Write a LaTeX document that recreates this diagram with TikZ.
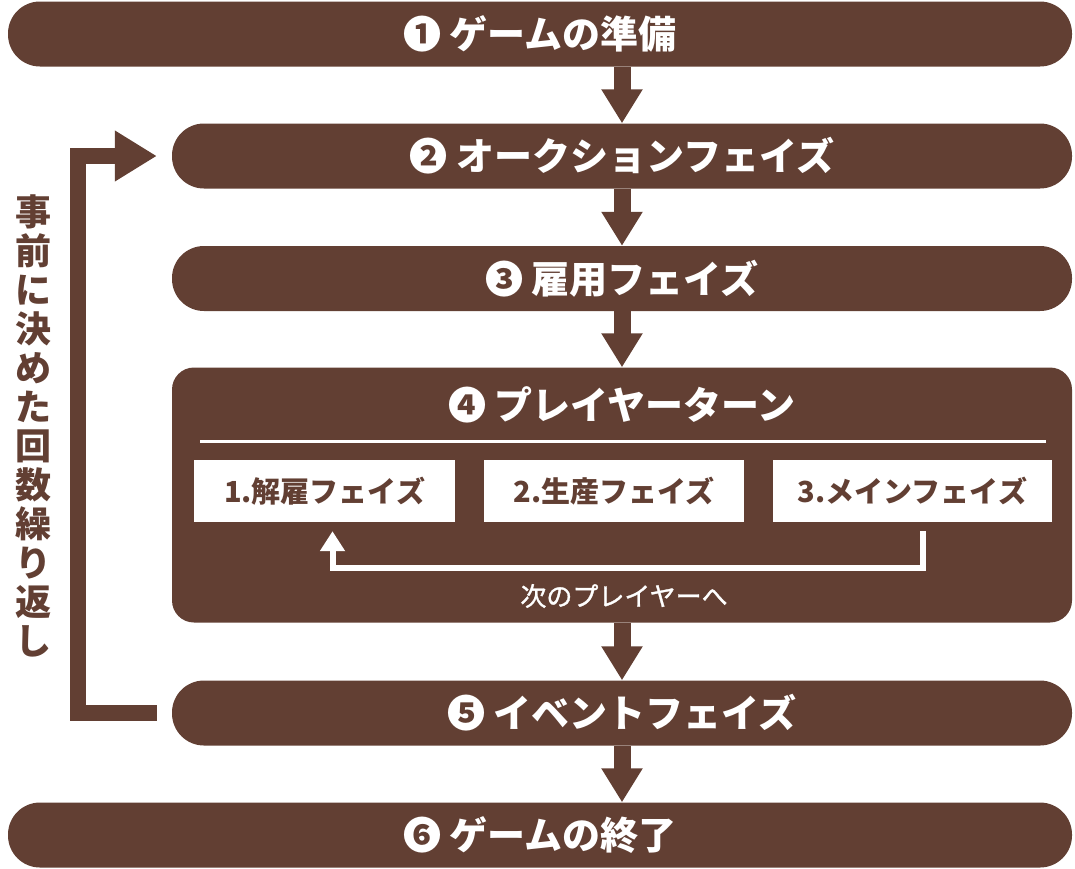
\documentclass[tikz,border=0pt]{standalone}
\usepackage{fontspec}
\newfontfamily\jpfont{Noto Sans CJK JP}
\newfontfamily\jpmid{Noto Sans CJK JP}[FakeBold=1.2]
\usepackage{tikz}
\usetikzlibrary{arrows.meta, calc, positioning}
\definecolor{brn}{HTML}{623F33}

\begin{document}
\begin{tikzpicture}[x=1pt, y=-1pt,
        bar/.style={fill=brn, text=white, rounded corners=32pt, minimum height=65pt, inner sep=0pt, font=\jpfont\bfseries\fontsize{38}{40}\selectfont},
        sub/.style={fill=white, text=brn, minimum height=62pt, inner sep=0pt, font=\jpfont\bfseries\fontsize{29}{31}\selectfont},
        flow/.style={draw=brn, line width=17pt, -{Triangle[width=39pt, length=34pt]}}]
                        \useasboundingbox (0,0) rectangle (1075,868);
                        \node[bar, minimum width=1064pt] (b1) at (540, 34) {❶ ゲームの準備};
                        \node[bar, minimum width=900pt] (b2) at (622, 156) {❷ オークションフェイズ};
                        \node[bar, minimum width=900pt] (b3) at (622, 278.5) {❸ 雇用フェイズ};
                        \node[fill=brn, rounded corners=22pt, minimum width=900pt, minimum height=255pt] (b4) at (622, 495) {};
                        \node[bar, fill=none] (t4) at (622, 405) {❹ プレイヤーターン};
                        \node[bar, minimum width=900pt] (b5) at (622, 713) {❺ イベントフェイズ};
                        \node[bar, minimum width=1064pt] (b6) at (540, 835) {❻ ゲームの終了};
                        \node[sub, minimum width=261pt] (s1) at (324.5, 491) {1.解雇フェイズ};
                        \node[sub, minimum width=260pt] (s2) at (614, 491) {2.生産フェイズ};
                        \node[sub, minimum width=279pt] (s3) at (912.5, 491) {3.メインフェイズ};
                        \node[text=white, font=\jpmid\fontsize{26}{28}\selectfont] (nx) at (624, 596) {次のプレイヤーへ};
                        \node[text=brn, align=center, font=\jpfont\bfseries\fontsize{36}{39}\selectfont] (note) at (34, 426) {事\\前\\に\\決\\め\\た\\回\\数\\繰\\り\\返\\し};
                        \draw[white, line width=3pt] (200, 441) -- (1046, 441);
                        \draw
                        (b2.north |- b1.south) edge[flow] (b2.north)
                        (b2.south) edge[flow] (b3.north)
                        (b3.south) edge[flow] (b4.north)
                        (b4.south) edge[flow] (b5.north)
                        (b5.south) edge[flow] (b5.south |- b6.north);
                        \draw[white, line width=6pt, -{Triangle[width=24pt, length=20pt]}]
                        ([xshift=10pt, yshift=-9pt]s3.south) -- ++(0, 37) -| ([xshift=8pt, yshift=-9pt]s1.south);
                        \draw[brn, line width=16pt, line join=miter, -{Triangle[width=48pt, length=42pt]}]
                        ([xshift=-15pt]b5.west) -- ++(-78.5, 0) |- ([xshift=-15pt]b2.west);
                    \end{tikzpicture}
\end{document}
